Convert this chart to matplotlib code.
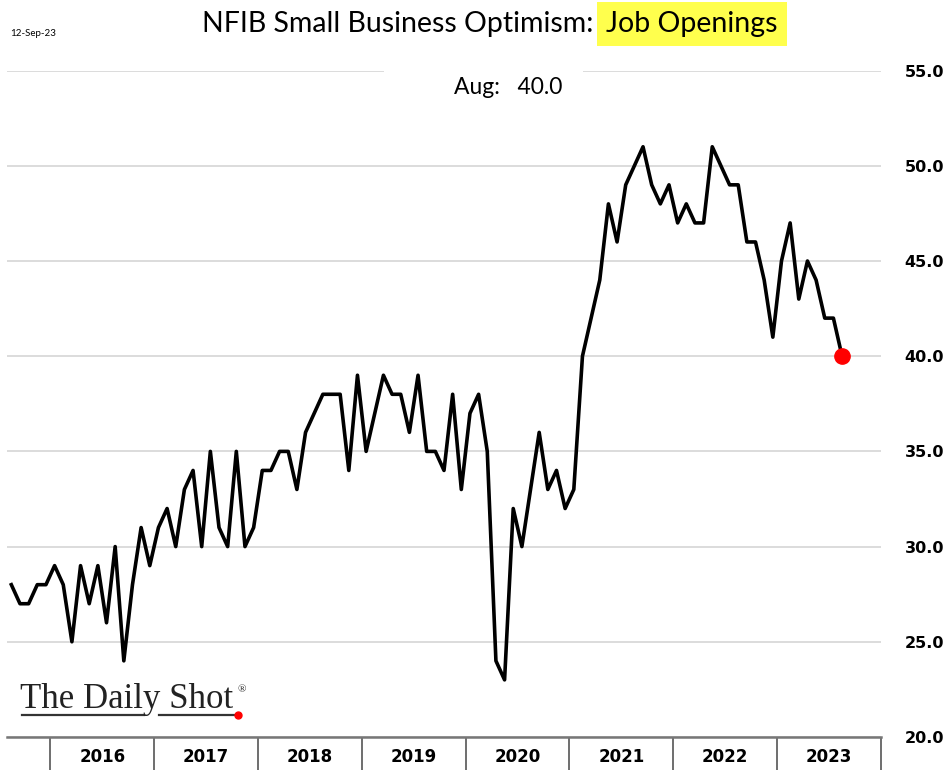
import numpy as np
import pandas as pd
import matplotlib.pyplot as plt
from matplotlib.patches import Rectangle

# NFIB job openings (% of owners), monthly Aug-2015 .. Aug-2023
months = pd.date_range("2015-08-01", "2023-08-01", freq="MS")
job_openings = [28, 27, 27, 28, 28, 29, 28, 25, 29, 27, 29, 26, 30, 24, 28, 31, 29, 31, 32, 30,
                33, 34, 30, 35, 31, 30, 35, 30, 31, 34, 34, 35, 35, 33, 36, 37, 38, 38,
                38, 34, 39, 35, 37, 39, 38, 38, 36, 39, 35, 35, 34, 38, 33, 37, 38, 35,
                24, 23, 32, 30, 33, 36, 33, 34, 32, 33,
                40, 42, 44, 48, 46, 49, 50, 51, 49, 48, 49, 47, 48, 47, 47, 51, 50, 49,
                49, 46, 46, 44, 41, 45, 47, 43, 45, 44, 42, 42, 40]
years = [2016, 2017, 2018, 2019, 2020, 2021, 2022, 2023]
y_ticks = [20, 25, 30, 35, 40, 45, 50, 55]

x = np.arange(len(months))
first_month = months[0].month
# boundaries between years, in month-index units
bounds = [(y - months[0].year) * 12 - (first_month - 1) - 0.5 for y in years + [years[-1] + 1]]
centers = [b + 6 for b in bounds[:-1]]

W, H = 948, 770
fig = plt.figure(figsize=(W / 100, H / 100), dpi=100)
ax = fig.add_axes([7 / W, 33 / H, 874 / W, (737 - 70.6) / H])

ax.plot(x, job_openings, color="black", lw=2.6, zorder=3)
ax.plot(x[-1], job_openings[-1], "o", color="#ff0000", ms=11, zorder=4)

ax.set_xlim(-0.5, bounds[-1])
ax.set_ylim(20, 55)

ax.yaxis.tick_right()
ax.set_yticks(y_ticks)
ax.set_yticklabels([f"{v:.1f}" for v in y_ticks], fontsize=11.5, fontweight="bold")
ax.tick_params(axis="y", length=0, pad=17)
ax.grid(axis="y", color="#dcdcdc", lw=1.4)

ax.set_xticks(bounds)
ax.set_xticklabels([])
ax.set_xticks(centers, minor=True)
ax.set_xticklabels([str(y) for y in years], minor=True, fontsize=12, fontweight="bold")
ax.tick_params(axis="x", which="major", length=24, width=1.2, color="#555555")
ax.tick_params(axis="x", which="minor", length=0, pad=8)

for s in ["top", "left", "right"]:
    ax.spines[s].set_visible(False)
ax.spines["bottom"].set_color("#777777")
ax.spines["bottom"].set_linewidth(1.8)

# title with highlighted part
fig.text(593 / W, 1 - 24 / H, "NFIB Small Business Optimism:", ha="right", va="center",
         fontsize=20.5, family="Lato")
fig.text(606 / W, 1 - 24 / H, "Job Openings", ha="left", va="center", fontsize=20.5,
         family="Lato", bbox=dict(boxstyle="square,pad=0.32", fc="#ffff4d", ec="none"))
fig.text(10 / W, 1 - 33 / H, "12-Sep-23", ha="left", va="center", fontsize=7, family="Lato")

# latest value, on a white patch that breaks the top gridline
fig.add_artist(Rectangle((384 / W, 1 - 105 / H), 199 / W, 40 / H, fc="white", ec="none",
                         zorder=2))
fig.text(508 / W, 1 - 88 / H, "Aug:   40.0", ha="center", va="center",
         fontsize=16.5, family="Lato", zorder=5)

# watermark
fig.text(20 / W, 1 - 708 / H, "The Daily Shot", ha="left", va="baseline", fontsize=25,
         family="Liberation Serif", color="#222222")
fig.text(238 / W, 1 - 690 / H, "®", ha="left", va="center", fontsize=8,
         family="Liberation Serif", color="#222222")
fig.add_artist(plt.Line2D([22 / W, 144 / W], [1 - 715 / H] * 2, color="#333333", lw=1.6))
fig.add_artist(plt.Line2D([159 / W, 238 / W], [1 - 715 / H] * 2, color="#333333", lw=1.6))
fig.add_artist(plt.Line2D([238 / W], [1 - 715 / H], marker="o", color="red", ms=5))

fig.savefig("out.png", dpi=100)
